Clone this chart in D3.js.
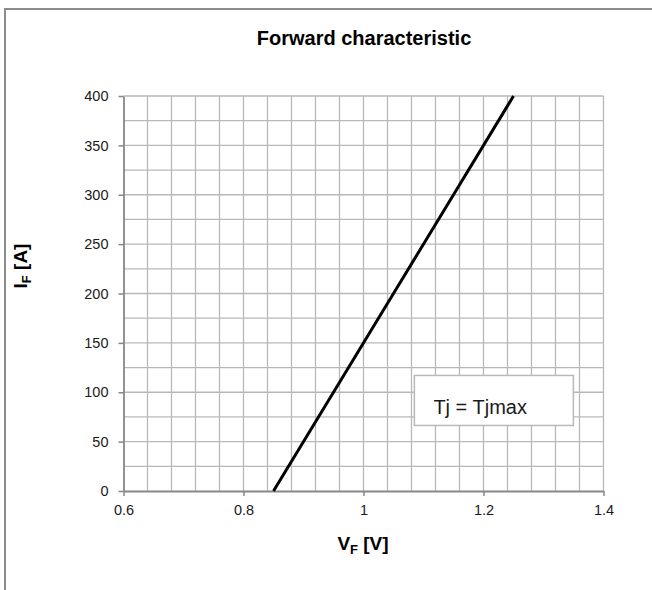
<!DOCTYPE html>
<html>
<head>
<meta charset="utf-8">
<script src="https://cdn.jsdelivr.net/npm/d3@7"></script>
<style>
  body { margin: 0; background: #fff; overflow: hidden; }
  svg { display: block; }
  text { font-family: "Liberation Sans", Arial, sans-serif; }
</style>
</head>
<body>
<div id="wrapper"></div>
<script>
// Data
const vfValues = [0.85, 0.95, 1.05, 1.15, 1.25];
const ifValues = [0, 100, 200, 300, 400];
const xTicks = [0.6, 0.8, 1, 1.2, 1.4];
const yTicks = [0, 50, 100, 150, 200, 250, 300, 350, 400];
const xGrid = d3.range(0, 21).map(i => 0.6 + i * 0.04);
const yGrid = d3.range(0, 17).map(i => i * 25);
const legendText = "Tj = Tjmax";

const drawChart = () => {
    const dimensions = {
        width: 652,
        height: 590,
        margin: { top: 96, right: 48.5, bottom: 99, left: 123.5 },
    };
    dimensions.boundedWidth = dimensions.width - dimensions.margin.left - dimensions.margin.right;
    dimensions.boundedHeight = dimensions.height - dimensions.margin.top - dimensions.margin.bottom;

    const wrapper = d3.select("#wrapper")
        .append("svg")
        .attr("width", dimensions.width)
        .attr("height", dimensions.height);

    // chart area border (cropped on right / bottom)
    wrapper.append("rect")
        .attr("x", 5)
        .attr("y", 9)
        .attr("width", 700)
        .attr("height", 640)
        .attr("fill", "#fff")
        .attr("stroke", "#8c8c8c")
        .attr("stroke-width", 2);

    const bounds = wrapper.append("g")
        .attr("transform", `translate(${dimensions.margin.left}, ${dimensions.margin.top})`);

    const xScale = d3.scaleLinear()
        .domain([0.6, 1.4])
        .range([0, dimensions.boundedWidth]);
    const yScale = d3.scaleLinear()
        .domain([0, 400])
        .range([dimensions.boundedHeight, 0]);

    // gridlines
    bounds.append("g").selectAll("line").data(xGrid.slice(1))
        .join("line")
        .attr("x1", d => xScale(d)).attr("x2", d => xScale(d))
        .attr("y1", 0).attr("y2", dimensions.boundedHeight)
        .attr("stroke", "#b8b8b8").attr("stroke-width", 1.3);
    bounds.append("g").selectAll("line").data(yGrid.slice(1))
        .join("line")
        .attr("x1", 0).attr("x2", dimensions.boundedWidth)
        .attr("y1", d => yScale(d)).attr("y2", d => yScale(d))
        .attr("stroke", "#b8b8b8").attr("stroke-width", 1.3);

    // axes
    const xAxis = bounds.append("g")
        .attr("transform", `translate(0, ${dimensions.boundedHeight})`)
        .call(d3.axisBottom(xScale).tickValues(xTicks).tickSize(5).tickSizeOuter(0)
            .tickFormat(d3.format("")));
    const yAxis = bounds.append("g")
        .call(d3.axisLeft(yScale).tickValues(yTicks).tickSize(5).tickSizeOuter(0));
    [xAxis, yAxis].forEach(ax => {
        ax.attr("font-size", null).attr("font-family", null);
        ax.select(".domain").attr("stroke", "#878787").attr("stroke-width", 1.8);
        ax.selectAll(".tick line").attr("stroke", "#878787").attr("stroke-width", 1.5);
        ax.selectAll(".tick text")
            .attr("fill", "#1a1a1a")
            .style("font-size", "14.5px");
    });
    xAxis.selectAll(".tick text").attr("dy", "0.71em").attr("y", 14);
    yAxis.selectAll(".tick text").attr("x", -15);

    // legend box
    const legend = bounds.append("g")
        .attr("transform", `translate(${xScale(1.0848)}, ${yScale(117)})`);
    legend.append("rect")
        .attr("width", 159).attr("height", 50)
        .attr("fill", "#fff")
        .attr("stroke", "#b8b8b8").attr("stroke-width", 1.5);
    legend.append("text")
        .attr("x", 19).attr("y", 39)
        .attr("fill", "#1a1a1a")
        .style("font-size", "20px")
        .text(legendText);

    // curve
    const lineGenerator = d3.line()
        .x((d, i) => xScale(vfValues[i]))
        .y(d => yScale(d));
    bounds.append("path")
        .attr("d", lineGenerator(ifValues))
        .attr("fill", "none")
        .attr("stroke", "#000")
        .attr("stroke-width", 3);

    // title
    wrapper.append("text")
        .attr("x", 364).attr("y", 45)
        .attr("text-anchor", "middle")
        .style("font-size", "20px").style("font-weight", "bold")
        .text("Forward characteristic");

    // x label
    const xLabel = wrapper.append("text")
        .attr("x", 363).attr("y", 550)
        .attr("text-anchor", "middle")
        .style("font-size", "19px").style("font-weight", "bold");
    xLabel.append("tspan").text("V");
    xLabel.append("tspan").attr("dy", 4).style("font-size", "13px").text("F");
    xLabel.append("tspan").attr("dy", -4).text(" [V]");

    // y label
    const yLabel = wrapper.append("text")
        .attr("transform", "translate(27, 266) rotate(-90)")
        .attr("text-anchor", "middle")
        .style("font-size", "19px").style("font-weight", "bold");
    yLabel.append("tspan").text("I");
    yLabel.append("tspan").attr("dy", 4).style("font-size", "13px").text("F");
    yLabel.append("tspan").attr("dy", -4).text(" [A]");
};
drawChart();
</script>
</body>
</html>
